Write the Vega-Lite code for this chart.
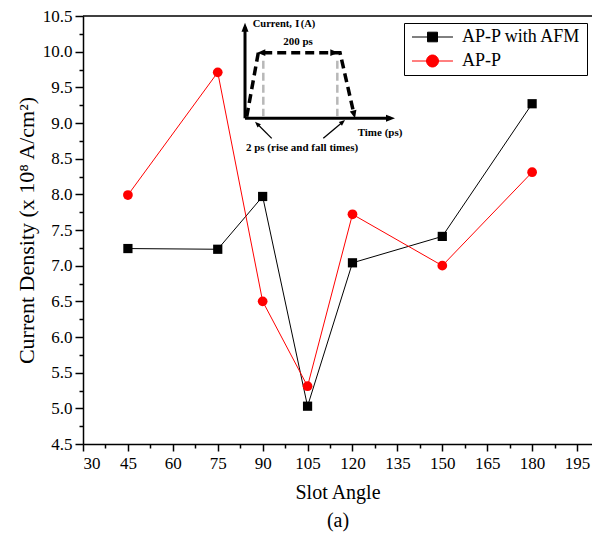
{
  "$schema": "https://vega.github.io/schema/vega-lite/v6.json",
  "width": 509,
  "height": 428,
  "autosize": {"type": "none"},
  "padding": {"left": 83, "top": 16, "right": 0, "bottom": 97},
  "background": "white",
  "config": {
    "view": {"stroke": null},
    "axis": {
      "grid": false,
      "domainColor": "black",
      "domainWidth": 1.5,
      "tickColor": "black",
      "tickWidth": 1.5,
      "labelColor": "black",
      "titleColor": "black",
      "labelFont": "Liberation Serif",
      "titleFont": "Liberation Serif",
      "titleFontWeight": "normal",
      "labelFontSize": 17,
      "titleFontSize": 20
    }
  },
  "datasets": {
    "density": [
      {"angle": 45, "density": 7.24, "series": "AP-P with AFM"},
      {"angle": 75, "density": 7.23, "series": "AP-P with AFM"},
      {"angle": 90, "density": 7.97, "series": "AP-P with AFM"},
      {"angle": 105, "density": 5.03, "series": "AP-P with AFM"},
      {"angle": 120, "density": 7.04, "series": "AP-P with AFM"},
      {"angle": 150, "density": 7.41, "series": "AP-P with AFM"},
      {"angle": 180, "density": 9.27, "series": "AP-P with AFM"},
      {"angle": 45, "density": 7.99, "series": "AP-P"},
      {"angle": 75, "density": 9.71, "series": "AP-P"},
      {"angle": 90, "density": 6.5, "series": "AP-P"},
      {"angle": 105, "density": 5.31, "series": "AP-P"},
      {"angle": 120, "density": 7.72, "series": "AP-P"},
      {"angle": 150, "density": 7.0, "series": "AP-P"},
      {"angle": 180, "density": 8.31, "series": "AP-P"}
    ],
    "insetSegments": [
      {"part": "axis", "x": 84.11, "y": 9.066, "x2": 84.11, "y2": 10.343},
      {"part": "axis", "x": 84.11, "y": 9.066, "x2": 132.71, "y2": 9.066},
      {"part": "gray", "x": 90.22, "y": 9.088, "x2": 90.22, "y2": 9.883},
      {"part": "gray", "x": 114.94, "y": 9.088, "x2": 114.94, "y2": 9.883},
      {"part": "pointer", "x": 93.03, "y": 8.785, "x2": 88.15, "y2": 8.989},
      {"part": "pointer", "x": 110.26, "y": 8.785, "x2": 116.74, "y2": 9.015}
    ],
    "insetPulse": [
      {"step": 1, "x": 84.68, "y": 9.088},
      {"step": 2, "x": 88.55, "y": 9.986},
      {"step": 3, "x": 115.84, "y": 9.986},
      {"step": 4, "x": 120.53, "y": 9.12}
    ],
    "insetHeads": [
      {"head": "up", "x": 84.11, "y": 10.343},
      {"head": "right", "x": 132.71, "y": 9.066},
      {"head": "pulseLeft", "x": 89.55, "y": 9.986},
      {"head": "pulseRight", "x": 113.93, "y": 9.986},
      {"head": "pulseDown", "x": 120.53, "y": 9.12},
      {"head": "ptrLeft", "x": 88.15, "y": 8.989},
      {"head": "ptrRight", "x": 116.74, "y": 9.015}
    ],
    "insetText": [
      {"text": "Current,", "style": "normal", "align": "left", "x": 86.68, "y": 10.388},
      {"text": "I", "style": "italic", "align": "left", "x": 100.85, "y": 10.388},
      {"text": "(A)", "style": "normal", "align": "left", "x": 102.7, "y": 10.388},
      {"text": "200 ps", "style": "normal", "align": "center", "x": 101.81, "y": 10.131},
      {"text": "Time (ps)", "style": "normal", "align": "center", "x": 129.2, "y": 8.864},
      {"text": "2 ps (rise and fall times)", "style": "normal", "align": "center", "x": 103.15, "y": 8.649}
    ]
  },
  "resolve": {"axis": {"x": "independent", "y": "independent"}},
  "layer": [
    {
      "data": {"values": [{}]},
      "mark": {"type": "rule", "color": "black", "strokeWidth": 1.5},
      "encoding": {
        "x": {"datum": 30, "type": "quantitative",
          "axis": {"orient": "bottom", "values": [37.5, 52.5, 67.5, 82.5, 97.5, 112.5, 127.5, 142.5, 157.5, 172.5, 187.5],
            "labels": false, "domain": false, "tickSize": 4, "title": null}},
        "x2": {"datum": 200},
        "y": {"datum": 10.5, "type": "quantitative",
          "axis": {"orient": "left", "values": [4.75, 5.25, 5.75, 6.25, 6.75, 7.25, 7.75, 8.25, 8.75, 9.25, 9.75, 10.25],
            "labels": false, "domain": false, "tickSize": 4, "title": null}}
      }
    },
    {
      "data": {"name": "density"},
      "mark": {"type": "line", "strokeWidth": 1},
      "encoding": {
        "x": {"field": "angle", "type": "quantitative",
          "scale": {"domain": [30, 200], "nice": false, "zero": false},
          "axis": {"orient": "bottom", "values": [30, 45, 60, 75, 90, 105, 120, 135, 150, 165, 180, 195],
            "tickSize": 7, "labelPadding": 4, "labelFont": "Liberation Serif", "labelFontSize": 17,
            "title": ["Slot Angle", "(a)"], "titleFont": "Liberation Serif",
            "titleLineHeight": 28, "titlePadding": 11}},
        "y": {"field": "density", "type": "quantitative",
          "scale": {"domain": [4.5, 10.5], "nice": false, "zero": false},
          "axis": {"orient": "left", "values": [4.5, 5, 5.5, 6, 6.5, 7, 7.5, 8, 8.5, 9, 9.5, 10, 10.5],
            "format": ".1f", "tickSize": 8, "labelPadding": 3, "labelFont": "Liberation Serif", "labelFontSize": 17,
            "titlePadding": 4, "titleFont": "Liberation Serif", "titleFontSize": 22,
            "title": "Current Density (x 10⁸ A/cm²)"}},
        "color": {"field": "series", "type": "nominal",
          "scale": {"domain": ["AP-P with AFM", "AP-P"], "range": ["#000000", "#ff0000"]},
          "legend": {
            "title": null, "orient": "none", "legendX": 321, "legendY": 7,
            "padding": 5, "rowPadding": 6, "strokeColor": "black", "fillColor": "white",
            "labelFont": "Liberation Serif", "labelFontSize": 18, "labelColor": "black",
            "labelOffset": 35, "symbolSize": 144, "labelLimit": 300,
            "encode": {
              "symbols": {
                "update": {
                  "shape": {"signal": "datum.value === 'AP-P' ? 'M-1,0H5.83M3.42,0A1,1,0,1,1,1.42,0A1,1,0,1,1,3.42,0Z' : 'M-1,0H5.83M1.59,-0.8H3.25V0.8H1.59Z'"},
                  "fill": {"signal": "datum.value === 'AP-P' ? '#ff0000' : '#000000'"},
                  "stroke": {"signal": "datum.value === 'AP-P' ? '#ff0000' : '#000000'"},
                  "strokeWidth": {"value": 1},
                  "size": {"value": 144},
                  "opacity": {"value": 1}
                }
              }
            }
          }
        },
        "order": {"field": "angle", "type": "quantitative"}
      }
    },
    {
      "data": {"name": "density"},
      "transform": [{"filter": "datum.series === 'AP-P with AFM'"}],
      "mark": {"type": "point", "filled": true, "opacity": 1, "shape": "square", "size": 85},
      "encoding": {
        "x": {"field": "angle", "type": "quantitative", "axis": null},
        "y": {"field": "density", "type": "quantitative", "axis": null},
        "color": {"field": "series", "type": "nominal"}
      }
    },
    {
      "data": {"name": "density"},
      "transform": [{"filter": "datum.series === 'AP-P'"}],
      "mark": {"type": "point", "filled": true, "opacity": 1, "shape": "circle", "size": 95},
      "encoding": {
        "x": {"field": "angle", "type": "quantitative", "axis": null},
        "y": {"field": "density", "type": "quantitative", "axis": null},
        "color": {"field": "series", "type": "nominal"}
      }
    },
    {
      "data": {"name": "insetSegments"},
      "transform": [{"filter": "datum.part === 'axis'"}],
      "mark": {"type": "rule", "color": "black", "strokeWidth": 3},
      "encoding": {
        "x": {"field": "x", "type": "quantitative", "axis": null},
        "y": {"field": "y", "type": "quantitative", "axis": null},
        "x2": {"field": "x2"},
        "y2": {"field": "y2"}
      }
    },
    {
      "data": {"name": "insetSegments"},
      "transform": [{"filter": "datum.part === 'gray'"}],
      "mark": {"type": "rule", "color": "#b8b8b8", "strokeWidth": 2.5, "strokeDash": [8, 4]},
      "encoding": {
        "x": {"field": "x", "type": "quantitative", "axis": null},
        "y": {"field": "y", "type": "quantitative", "axis": null},
        "x2": {"field": "x2"},
        "y2": {"field": "y2"}
      }
    },
    {
      "data": {"name": "insetSegments"},
      "transform": [{"filter": "datum.part === 'pointer'"}],
      "mark": {"type": "rule", "color": "black", "strokeWidth": 1.3},
      "encoding": {
        "x": {"field": "x", "type": "quantitative", "axis": null},
        "y": {"field": "y", "type": "quantitative", "axis": null},
        "x2": {"field": "x2"},
        "y2": {"field": "y2"}
      }
    },
    {
      "data": {"name": "insetPulse"},
      "mark": {"type": "line", "color": "black", "strokeWidth": 3.5, "strokeDash": [9, 5], "strokeCap": "butt"},
      "encoding": {
        "x": {"field": "x", "type": "quantitative", "axis": null},
        "y": {"field": "y", "type": "quantitative", "axis": null},
        "order": {"field": "step", "type": "quantitative"}
      }
    },
    {
      "data": {"name": "insetHeads"},
      "transform": [{"filter": "datum.head === 'up'"}],
      "mark": {"type": "point", "filled": true, "opacity": 1, "color": "black", "size": 81, "shape": "M0,-1L0.78,1L-0.78,1Z", "angle": 0},
      "encoding": {
        "x": {"field": "x", "type": "quantitative", "axis": null},
        "y": {"field": "y", "type": "quantitative", "axis": null}
      }
    },
    {
      "data": {"name": "insetHeads"},
      "transform": [{"filter": "datum.head === 'right'"}],
      "mark": {"type": "point", "filled": true, "opacity": 1, "color": "black", "size": 81, "shape": "M0,-1L0.78,1L-0.78,1Z", "angle": 90},
      "encoding": {
        "x": {"field": "x", "type": "quantitative", "axis": null},
        "y": {"field": "y", "type": "quantitative", "axis": null}
      }
    },
    {
      "data": {"name": "insetHeads"},
      "transform": [{"filter": "datum.head === 'pulseLeft'"}],
      "mark": {"type": "point", "filled": true, "opacity": 1, "color": "black", "size": 64, "shape": "M0,-1L0.85,1L-0.85,1Z", "angle": 270},
      "encoding": {
        "x": {"field": "x", "type": "quantitative", "axis": null},
        "y": {"field": "y", "type": "quantitative", "axis": null}
      }
    },
    {
      "data": {"name": "insetHeads"},
      "transform": [{"filter": "datum.head === 'pulseRight'"}],
      "mark": {"type": "point", "filled": true, "opacity": 1, "color": "black", "size": 64, "shape": "M0,-1L0.85,1L-0.85,1Z", "angle": 90},
      "encoding": {
        "x": {"field": "x", "type": "quantitative", "axis": null},
        "y": {"field": "y", "type": "quantitative", "axis": null}
      }
    },
    {
      "data": {"name": "insetHeads"},
      "transform": [{"filter": "datum.head === 'pulseDown'"}],
      "mark": {"type": "point", "filled": true, "opacity": 1, "color": "black", "size": 64, "shape": "M0,-1L0.85,1L-0.85,1Z", "angle": 166},
      "encoding": {
        "x": {"field": "x", "type": "quantitative", "axis": null},
        "y": {"field": "y", "type": "quantitative", "axis": null}
      }
    },
    {
      "data": {"name": "insetHeads"},
      "transform": [{"filter": "datum.head === 'ptrLeft'"}],
      "mark": {"type": "point", "filled": true, "opacity": 1, "color": "black", "size": 36, "shape": "M0,-1L0.8,1L-0.8,1Z", "angle": 315},
      "encoding": {
        "x": {"field": "x", "type": "quantitative", "axis": null},
        "y": {"field": "y", "type": "quantitative", "axis": null}
      }
    },
    {
      "data": {"name": "insetHeads"},
      "transform": [{"filter": "datum.head === 'ptrRight'"}],
      "mark": {"type": "point", "filled": true, "opacity": 1, "color": "black", "size": 36, "shape": "M0,-1L0.8,1L-0.8,1Z", "angle": 50},
      "encoding": {
        "x": {"field": "x", "type": "quantitative", "axis": null},
        "y": {"field": "y", "type": "quantitative", "axis": null}
      }
    },
    {
      "data": {"name": "insetText"},
      "transform": [{"filter": "datum.align === 'left'"}],
      "mark": {"type": "text", "font": "Liberation Serif", "fontWeight": "bold", "fontSize": 10.5, "align": "left", "baseline": "middle", "color": "black"},
      "encoding": {
        "x": {"field": "x", "type": "quantitative", "axis": null},
        "y": {"field": "y", "type": "quantitative", "axis": null},
        "text": {"field": "text"},
        "fontStyle": {"field": "style", "type": "nominal", "scale": null}
      }
    },
    {
      "data": {"name": "insetText"},
      "transform": [{"filter": "datum.align === 'center'"}],
      "mark": {"type": "text", "font": "Liberation Serif", "fontWeight": "bold", "fontSize": 11, "align": "center", "baseline": "middle", "color": "black"},
      "encoding": {
        "x": {"field": "x", "type": "quantitative", "axis": null},
        "y": {"field": "y", "type": "quantitative", "axis": null},
        "text": {"field": "text"}
      }
    }
  ]
}
